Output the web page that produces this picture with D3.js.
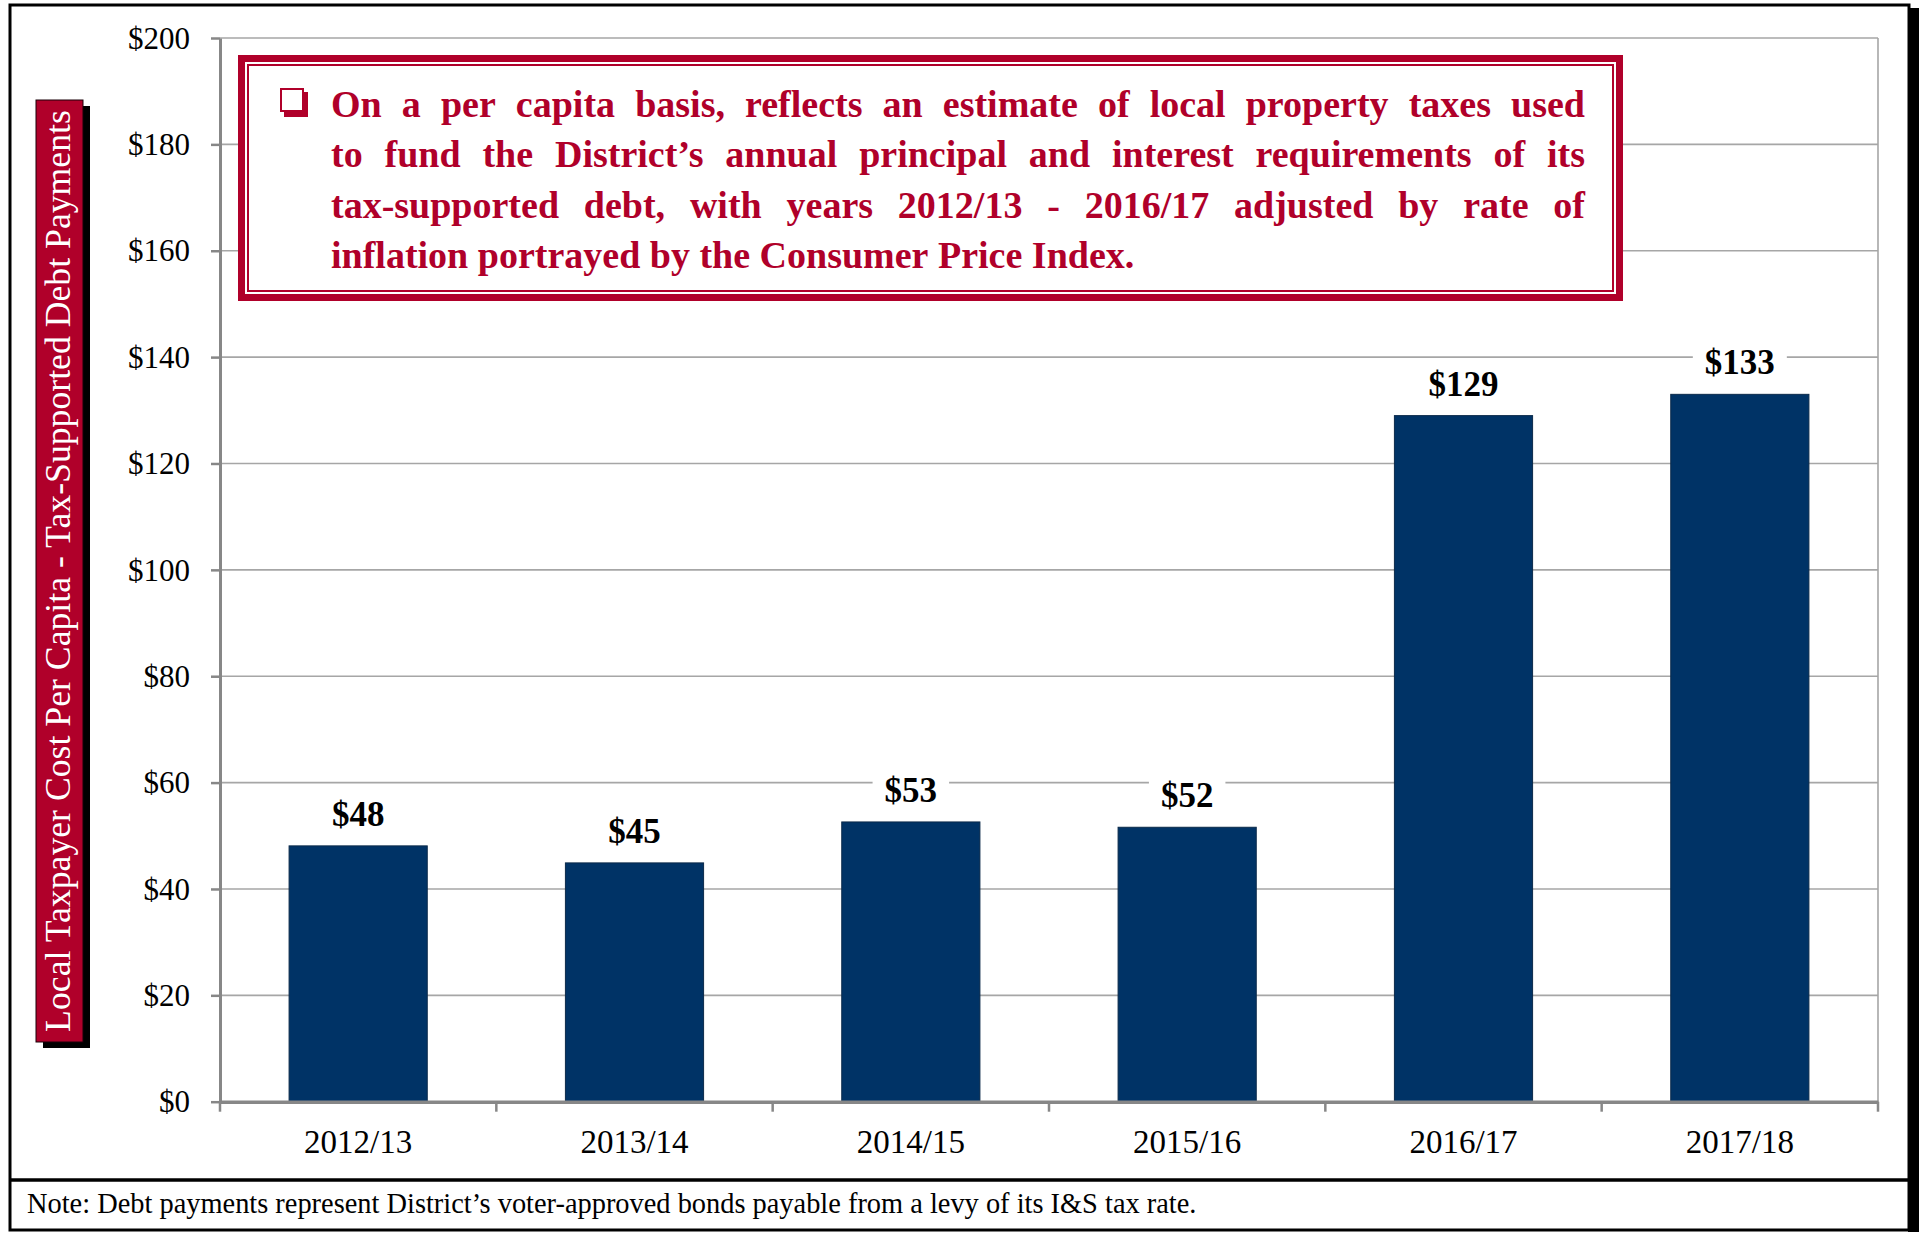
<!DOCTYPE html>
<html><head><meta charset="utf-8">
<script src="https://cdn.jsdelivr.net/npm/d3@7"></script>
<style>body{margin:0;background:#fff;} svg{display:block}</style>
</head><body>
<svg id="c" width="1919" height="1233"></svg>
<script>
// ---- data ----
const categories = ["2012/13", "2013/14", "2014/15", "2015/16", "2016/17", "2017/18"];
const values = [48.1, 44.9, 52.6, 51.6, 129, 133];
const valueLabels = ["$48", "$45", "$53", "$52", "$129", "$133"];
const yTickValues = [0, 20, 40, 60, 80, 100, 120, 140, 160, 180, 200];
const yTickLabels = ["$0", "$20", "$40", "$60", "$80", "$100", "$120", "$140", "$160", "$180", "$200"];
const yAxisTitle = "Local Taxpayer Cost Per Capita - Tax-Supported Debt Payments";
const calloutLines = [
  "On a per capita basis, reflects an estimate of local property taxes used",
  "to fund the District\u2019s annual principal and interest requirements of its",
  "tax-supported debt, with years 2012/13 - 2016/17 adjusted by rate of",
  "inflation portrayed by the Consumer Price Index."
];
const noteText = "Note: Debt payments represent District\u2019s voter-approved bonds payable from a levy of its I&S tax rate.";

// ---- setup ----
const svg = d3.select("#c");
const serif = "'Liberation Serif','Times New Roman',serif";
const red = "#B0002A";
const navy = "#003366";
const axisGrey = "#878787";
const gridGrey = "#A6A6A6";

const P = {left: 220, right: 1878, top: 38, bottom: 1101.7};
const x = d3.scaleBand().domain(categories).range([P.left, P.right]).paddingInner(0.5).paddingOuter(0.25);
const y = d3.scaleLinear().domain([0, 200]).range([P.bottom, P.top]);

function fitWidth(sel, target) {
  const w = sel.node().getComputedTextLength();
  const fs = parseFloat(sel.attr("font-size"));
  sel.attr("font-size", fs * target / w);
}

// ---- frame ----
svg.append("rect").attr("x", 1908).attr("y", 8).attr("width", 11).attr("height", 1224).attr("fill", "#000");
svg.append("rect").attr("x", 10).attr("y", 5).attr("width", 1899).attr("height", 1225)
  .attr("fill", "#fff").attr("stroke", "#000").attr("stroke-width", 3);
svg.append("line").attr("x1", 10).attr("x2", 1909).attr("y1", 1180).attr("y2", 1180)
  .attr("stroke", "#000").attr("stroke-width", 3.5);

// ---- gridlines ----
svg.append("g").selectAll("line").data(yTickValues.filter(d => d > 0)).join("line")
  .attr("x1", P.left).attr("x2", P.right)
  .attr("y1", d => y(d)).attr("y2", d => y(d))
  .attr("stroke", gridGrey).attr("stroke-width", 1.6);
svg.append("line").attr("x1", P.right).attr("x2", P.right).attr("y1", P.top).attr("y2", P.bottom)
  .attr("stroke", gridGrey).attr("stroke-width", 1.6);

// ---- bars ----
svg.append("g").selectAll("rect").data(values).join("rect")
  .attr("x", (d, i) => x(categories[i]))
  .attr("width", x.bandwidth())
  .attr("y", d => y(d))
  .attr("height", d => y(0) - y(d))
  .attr("fill", navy).attr("stroke", "#0b2a4a").attr("stroke-width", 1);

// ---- y axis ----
const yAxis = d3.axisLeft(y).tickValues(yTickValues).tickSize(9).tickSizeOuter(0).tickPadding(21)
  .tickFormat((d, i) => yTickLabels[i]);
const gy = svg.append("g").attr("transform", `translate(${P.left},0)`).call(yAxis);
gy.select(".domain").attr("stroke", axisGrey).attr("stroke-width", 3);
gy.selectAll(".tick line").attr("stroke", axisGrey).attr("stroke-width", 2.5);
gy.selectAll(".tick text").attr("font-family", serif).attr("font-size", 31).attr("fill", "#000").attr("dy", "0.33em");

// ---- x axis ----
const xAxis = d3.axisBottom(x).tickSize(0).tickSizeOuter(0).tickPadding(0);
const gx = svg.append("g").attr("transform", `translate(0,${P.bottom})`).call(xAxis);
gx.select(".domain").attr("stroke", axisGrey).attr("stroke-width", 3.5);
gx.selectAll(".tick text").attr("font-family", serif).attr("font-size", 33).attr("fill", "#000")
  .attr("dy", null).attr("y", 51);
const boundaries = categories.map(c => x(c) - x.step() * x.paddingInner() / 2).concat([P.right]);
gx.append("g").selectAll("line").data(boundaries).join("line")
  .attr("x1", d => d).attr("x2", d => d).attr("y1", 0).attr("y2", 10)
  .attr("stroke", axisGrey).attr("stroke-width", 2.5);

// ---- value labels ----
const lbl = svg.append("g").selectAll("g").data(values).join("g")
  .attr("transform", (d, i) => `translate(${x(categories[i]) + x.bandwidth() / 2},${y(d) - 20})`);
lbl.append("rect").attr("fill", "#fff");
lbl.append("text").attr("text-anchor", "middle").attr("font-family", serif).attr("font-weight", "bold")
  .attr("font-size", 35).attr("fill", "#000").text((d, i) => valueLabels[i]);
lbl.each(function() {
  const g = d3.select(this);
  const w = g.select("text").node().getComputedTextLength();
  g.select("rect").attr("x", -w / 2 - 12).attr("width", w + 24).attr("y", -33).attr("height", 42);
});

// ---- y axis title box ----
svg.append("rect").attr("x", 43).attr("y", 106).attr("width", 47).attr("height", 942).attr("fill", "#000");
svg.append("rect").attr("x", 36).attr("y", 100).attr("width", 47).attr("height", 942)
  .attr("fill", red).attr("stroke", "#1a0008").attr("stroke-width", 1);
const yt = svg.append("text").attr("transform", "translate(70,571) rotate(-90)")
  .attr("text-anchor", "middle").attr("font-family", serif).attr("font-size", 30).attr("fill", "#fff")
  .text(yAxisTitle);
fitWidth(yt, 922);

// ---- callout box ----
const cb = {x0: 238, y0: 55, x1: 1623, y1: 301};
svg.append("rect").attr("x", cb.x0 + 3.5).attr("y", cb.y0 + 3.5)
  .attr("width", cb.x1 - cb.x0 - 7).attr("height", cb.y1 - cb.y0 - 7)
  .attr("fill", "#fff").attr("stroke", red).attr("stroke-width", 7);
svg.append("rect").attr("x", cb.x0 + 10).attr("y", cb.y0 + 10)
  .attr("width", cb.x1 - cb.x0 - 20).attr("height", cb.y1 - cb.y0 - 20)
  .attr("fill", "none").attr("stroke", red).attr("stroke-width", 2);
// bullet (hollow box with shadow)
svg.append("rect").attr("x", 284).attr("y", 92).attr("width", 24).attr("height", 25).attr("fill", red);
svg.append("rect").attr("x", 281).attr("y", 89).attr("width", 22).attr("height", 22)
  .attr("fill", "#fff").attr("stroke", red).attr("stroke-width", 2);

const tx0 = 331, tx1 = 1585, lineY0 = 117, lineGap = 50.4, lastLineWidth = 854;
const fs = 38;
const cg = svg.append("g").attr("font-family", serif).attr("font-weight", "bold").attr("fill", red)
  .attr("font-size", fs);
function measure(str) {
  const t = cg.append("text").text(str);
  const w = t.node().getComputedTextLength();
  t.remove();
  return w;
}
const spaceW = measure("a a") - measure("aa");
function lineMetrics(line) {
  const words = line.split(" ");
  const ws = words.map(measure);
  return {words, ws, nat: d3.sum(ws) + spaceW * (words.length - 1)};
}
const metrics = calloutLines.map(lineMetrics);
// horizontal condensing to mimic the narrower Garamond face
let sx = lastLineWidth / metrics[metrics.length - 1].nat;
metrics.slice(0, -1).forEach(m => {
  const need = (d3.sum(m.ws) + spaceW * 0.65 * (m.words.length - 1)) * sx;
  if (need > tx1 - tx0) sx *= (tx1 - tx0) / need;
});
sx = Math.min(sx, 1);
const inner = cg.append("g").attr("transform", `translate(${tx0},0) scale(${sx},1)`);
const span = (tx1 - tx0) / sx;
metrics.forEach((m, li) => {
  const justify = li < metrics.length - 1;
  const gap = justify ? (span - d3.sum(m.ws)) / (m.words.length - 1) : spaceW;
  let cx = 0;
  m.words.forEach((w, wi) => {
    inner.append("text").attr("x", cx).attr("y", lineY0 + li * lineGap).text(w);
    cx += m.ws[wi] + gap;
  });
});

// ---- note ----
const nt = svg.append("text").attr("x", 27).attr("y", 1213).attr("font-family", serif)
  .attr("font-size", 26).attr("fill", "#000").text(noteText);
fitWidth(nt, 1170);
</script>
</body></html>
